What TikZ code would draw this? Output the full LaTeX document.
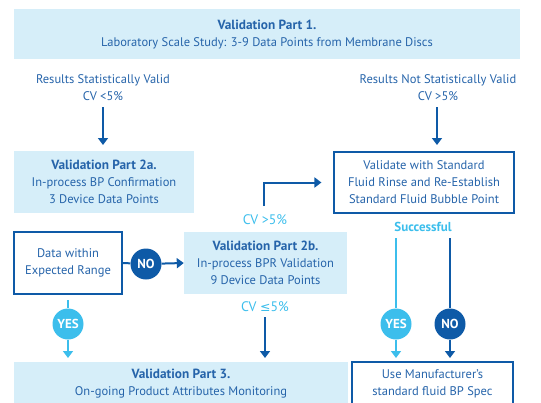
\documentclass[tikz,border=0pt]{standalone}
\usepackage{fontspec}
\setmainfont{PT Sans}
\newfontfamily\symfont{DejaVu Sans}
\usetikzlibrary{arrows.meta}
\definecolor{dblue}{HTML}{0E5AA7}
\definecolor{tblue}{HTML}{2664AA}
\definecolor{lblue}{HTML}{3CBEEC}
\definecolor{lfill}{HTML}{D6EEF9}
\newcommand{\hd}[1]{{\fontsize{13.3}{17}\selectfont\bfseries #1}}
\tikzset{
  every node/.style={font=\fontsize{12.5}{17}\selectfont, text=tblue, align=center, inner sep=0pt},
  fillbox/.style={fill=lfill, draw=none},
  linebox/.style={fill=white, draw=dblue, line width=1.1pt},
  darr/.style={draw=dblue, line width=2pt, -{Triangle[width=10pt,length=7pt]}},
  larr/.style={draw=lblue, line width=2pt, -{Triangle[width=10pt,length=7pt]}},
  dline/.style={draw=dblue, line width=2pt},
  lline/.style={draw=lblue, line width=2pt},
  dcirc/.style={circle, fill=dblue, minimum size=31pt, text=white, font=\fontsize{13}{15}\selectfont\bfseries},
  lcirc/.style={circle, fill=lblue, minimum size=31pt, text=white, font=\fontsize{13}{15}\selectfont\bfseries},
  lbl/.style={text=lblue, font=\fontsize{13.8}{15}\selectfont},
}
\begin{document}
\begin{tikzpicture}[x=1pt,y=-1pt]
\useasboundingbox (0,0) rectangle (541,402);
\clip (0,0) rectangle (541,402);
% boxes
\fill[lfill] (14,9) rectangle (520,59);
\node (p1) at (267,35) {\hd{Validation Part 1.}\\Laboratory Scale Study: 3-9 Data Points from Membrane Discs};
\node (r1) at (103,88) {Results Statistically Valid\\CV <5\%};
\node (r2) at (438,88) {Results Not Statistically Valid\\CV >5\%};
\coordinate (a1s) at (103,107); \coordinate (a1e) at (103,145);
\coordinate (a2s) at (437,107); \coordinate (a2e) at (437,145);
\draw[darr] (a1s) -- (a1e);
\draw[darr] (a2s) -- (a2e);

\node[fillbox, minimum width=180pt, minimum height=62pt] (p2a) at (104,182) {\hd{Validation Part 2a.}\\In-process BP Confirmation\\3 Device Data Points};
\node[linebox, minimum width=180pt, minimum height=61pt] (val) at (424,182.5) {Validate with Standard\\Fluid Rinse and Re-Establish\\Standard Fluid Bubble Point};

\coordinate (c1) at (264,206); \coordinate (c2) at (264,182.5);
\draw[darr, shorten >=12pt] (c1) -- (c2) -- (val.west);
\node[lbl] (cv1) at (265,220) {CV >5\%};
\node[lbl, font=\fontsize{13}{15}\selectfont\bfseries] (succ) at (423,227) {Successful};

\node[linebox, minimum width=108pt, minimum height=62pt] (data) at (68,263) {Data within\\Expected Range};
\node[fillbox, minimum width=163pt, minimum height=62pt] (p2b) at (265.5,263) {\hd{Validation Part 2b.}\\In-process BPR Validation\\9 Device Data Points};
\node[dcirc] (no1) at (146,264) {NO};
\draw[dline] (data.east) -- (no1);
\draw[darr] (no1) -- (p2b.west);

\node[lbl] (cv2) at (265,307) {CV {\symfont\fontsize{12.5}{14}\selectfont ≤}5\%};
\coordinate (a3s) at (265,317); \coordinate (a3e) at (265,358);
\draw[darr] (a3s) -- (a3e);

\node[lcirc] (yes1) at (68,324) {YES};
\coordinate (y1s) at (68,300); \coordinate (y1e) at (68,358);
\draw[lline] (y1s) -- (yes1);
\draw[larr] (yes1) -- (y1e);

\node[lcirc] (yes2) at (396,324) {YES};
\node[dcirc] (no2) at (450,324) {NO};
\coordinate (y2s) at (396,238); \coordinate (y2e) at (396,358);
\coordinate (n2s) at (450,238); \coordinate (n2e) at (450,358);
\draw[lline] (y2s) -- (yes2);
\draw[larr] (yes2) -- (y2e);
\draw[dline] (n2s) -- (no2);
\draw[darr] (no2) -- (n2e);

\fill[lfill] (14,362) rectangle (348,420);
\node (p3) at (181,383.5) {\hd{Validation Part 3.}\\On-going Product Attributes Monitoring};
\draw[linebox] (352,362) rectangle (513,420);
\node (mfr) at (432.5,383.5) {Use Manufacturer's\\standard fluid BP Spec};
\end{tikzpicture}
\end{document}
